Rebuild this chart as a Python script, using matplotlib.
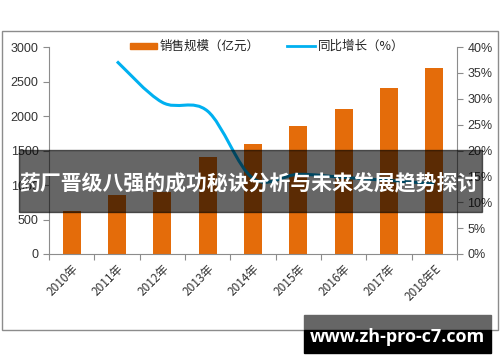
import numpy as np
import matplotlib
matplotlib.use('Agg')
import matplotlib.pyplot as plt
from matplotlib.path import Path
from matplotlib.patches import PathPatch, Rectangle

plt.rcParams['font.family'] = ['Liberation Sans', 'Noto Sans CJK SC', 'DejaVu Sans']

# data
years = ['2010年', '2011年', '2012年', '2013年', '2014年', '2015年', '2016年', '2017年', '2018年E']
sales = [620, 850, 900, 1400, 1600, 1850, 2100, 2400, 2700]      # 亿元
growth_years = [1, 2, 3, 4, 5, 6, 7, 8]                          # index into years
growth = [37.2, 29.3, 27.6, 14.6, 15.4, 14.8, 14.2, 13.6]        # %

bar_color = '#E46C0A'
line_color = '#00B0F0'
spine_color = '#8C8C8C'

fig = plt.figure(figsize=(5, 3.62), dpi=100)
fig.patch.set_facecolor('white')

# outer chart frame
fig.add_artist(Rectangle((2/500, 1 - 330/362), 496/500, 299/362, transform=fig.transFigure,
                         fill=False, edgecolor='#8C8C8C', linewidth=1.0))

ax = fig.add_axes([49/500, 1 - 254/362, 408/500, 207/362])
x = np.arange(len(years))
ax.bar(x, sales, width=0.4, color=bar_color, zorder=2)
ax.set_xlim(-0.5, len(years) - 0.5)
ax.set_ylim(0, 3000)
ax.set_yticks(range(0, 3001, 500))
ax.tick_params(axis='y', labelsize=9, colors='#333333', length=4, color=spine_color)
for t in ax.get_yticklabels():
    t.set_color('#333333')
ax.set_xticks(np.arange(len(years) + 1) - 0.5, minor=False)
ax.set_xticklabels([])
ax.set_xticks(x, minor=True)
ax.set_xticklabels(years, minor=True, rotation=45, ha='right', va='top',
                   rotation_mode='anchor', fontsize=8.5, family=['Noto Sans CJK SC'],
                   color='#333333')
ax.tick_params(axis='x', which='major', length=4, color=spine_color)
ax.tick_params(axis='x', which='minor', length=0, pad=6)
for s in ['top', 'right']:
    ax.spines[s].set_visible(False)
for s in ['left', 'bottom']:
    ax.spines[s].set_color(spine_color)

ax2 = ax.twinx()
ax2.set_ylim(0, 40)
ax2.set_yticks(range(0, 41, 5))
ax2.set_yticklabels([f'{v}%' for v in range(0, 41, 5)])
ax2.tick_params(axis='y', labelsize=9, length=4, color=spine_color, labelcolor='#333333')
for s in ['top', 'left', 'bottom']:
    ax2.spines[s].set_visible(False)
ax2.spines['right'].set_color(spine_color)

# smooth line through the growth points (Catmull-Rom -> cubic Bezier)
px = np.array(growth_years, dtype=float)
py = np.array(growth, dtype=float)
verts = [(px[0], py[0])]
codes = [Path.MOVETO]
n = len(px)
for i in range(n - 1):
    p0 = np.array([px[max(i - 1, 0)], py[max(i - 1, 0)]])
    p1 = np.array([px[i], py[i]])
    p2 = np.array([px[i + 1], py[i + 1]])
    p3 = np.array([px[min(i + 2, n - 1)], py[min(i + 2, n - 1)]])
    c1 = p1 + (p2 - p0) / 6
    c2 = p2 - (p3 - p1) / 6
    verts += [tuple(c1), tuple(c2), tuple(p2)]
    codes += [Path.CURVE4] * 3
ax2.add_patch(PathPatch(Path(verts, codes), facecolor='none', edgecolor=line_color,
                        linewidth=2.2, zorder=3))
ax2.plot([], [], color=line_color, linewidth=2)

# legend
fig.add_artist(Rectangle((130/500, 1 - 49/362), 27/500, 6/362, transform=fig.transFigure,
                         color=bar_color))
fig.text(160/500, 1 - 46/362, '销售规模（亿元）', fontsize=9, va='center',
         family=['Noto Sans CJK SC'], color='#222222')
fig.add_artist(plt.Line2D([287/500, 315/500], [1 - 46/362, 1 - 46/362],
                          transform=fig.transFigure, color=line_color, linewidth=2))
fig.text(318/500, 1 - 46/362, '同比增长（%）', fontsize=9, va='center',
         family=['Noto Sans CJK SC'], color='#222222')

# title band overlay
fig.add_artist(Rectangle((19/500, 1 - 212/362), 463/500, 62/362, transform=fig.transFigure,
                         color='black', alpha=0.6, zorder=10))
fig.text(249/500, 1 - 184/362, '药厂晋级八强的成功秘诀分析与未来发展趋势探讨', fontsize=15,
         fontweight='bold', color='white', ha='center', va='center',
         family=['Noto Sans CJK SC'], zorder=11)

# bottom url banner
fig.add_artist(Rectangle((304/500, 1 - 330/362), 187/500, 15/362, transform=fig.transFigure,
                         color='#666666', zorder=10))
fig.add_artist(Rectangle((304/500, 1 - 353/362), 187/500, 23/362, transform=fig.transFigure,
                         color='black', zorder=10))
fig.text(397/500, 1 - 337/362, 'www.zh-pro-c7.com', fontsize=13, fontweight='bold',
         color='white', ha='center', va='center', family=['Open Sans', 'DejaVu Sans'], zorder=11)

fig.savefig('out.png', dpi=100)
